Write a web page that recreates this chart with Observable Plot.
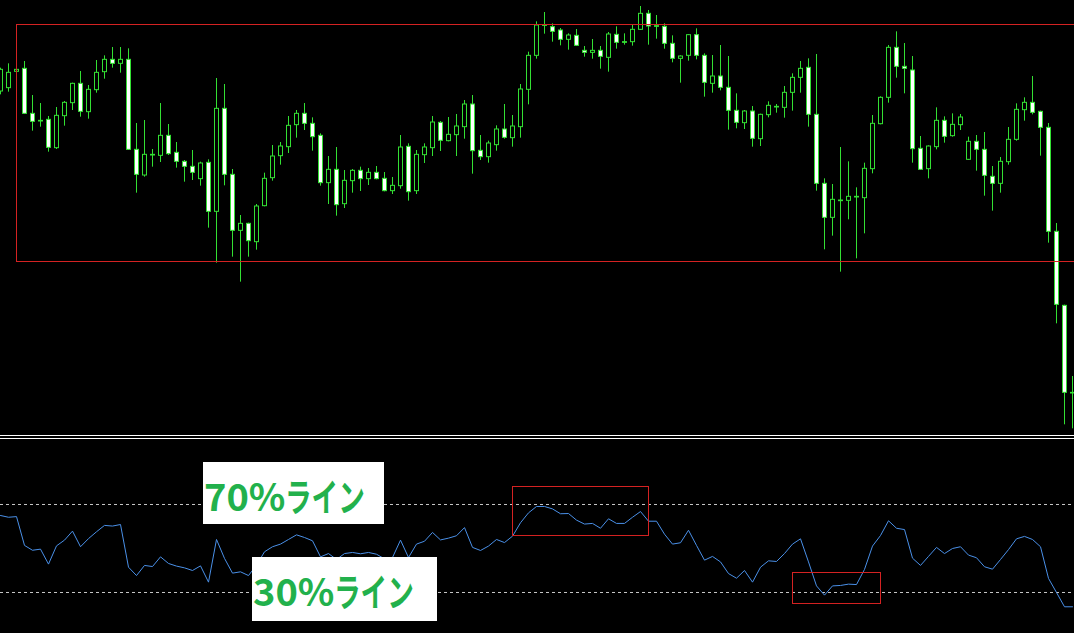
<!DOCTYPE html>
<html><head><meta charset="utf-8">
<script src="https://cdn.jsdelivr.net/npm/d3@7"></script>
<script src="https://cdn.jsdelivr.net/npm/@observablehq/plot@0.6"></script>
<style>
html,body{margin:0;padding:0;background:#000;}
#wrap{position:relative;width:1074px;height:633px;background:#000;overflow:hidden;}
#top,#bottom{line-height:0;}
.sep{height:2px;border-top:1px solid #fff;border-bottom:1px solid #fff;background:#000;}
.lab{position:absolute;background:#fff;white-space:nowrap;}
.lab .t{position:absolute;left:1px;top:14px;font-family:"Noto Sans CJK JP","Noto Sans",sans-serif;font-weight:700;font-size:38px;line-height:38px;color:#22b14c;}
.lab .k{display:inline-block;transform:scaleX(0.7);transform-origin:0 50%;}
</style></head>
<body>
<div id="wrap">
  <div id="top"></div>
  <div class="sep"></div>
  <div id="bottom"></div>
  <div class="lab" style="left:203px;top:462px;width:181px;height:62px"><span class="t"><span>70%</span><span class="k">ライン</span></span></div>
  <div class="lab" style="left:252px;top:557px;width:185px;height:64px"><span class="t"><span>30%</span><span class="k">ライン</span></span></div>
</div>
<script>
// OHLC prices (chart units, higher = up)
const open = [1047,1057,1106,1115,980,959,962,877,973,1012,
1070,985,1051,1105,1142,1130,1142,872,795,857,
854,914,863,836,821,784,833,686,995,797,
629,650,595,703,787,853,880,946,980,950,
914,772,812,709,778,809,784,803,785,748,
763,881,748,856,877,953,898,916,940,1008,
869,850,886,933,907,940,1052,1154,1246,1240,
1230,1202,1214,1169,1163,1169,1148,1217,1195,1195,
1232,1280,1243,1241,1190,1145,1154,1216,1154,1070,
1092,1058,989,952,987,904,976,1001,998,1043,
1088,1118,977,770,668,720,719,731,727,814,
949,1028,1178,1121,1110,875,814,880,959,913,
946,842,896,872,791,770,835,902,991,1013,
986,938,626,404,143];
const high = [1117,1130,1113,1137,1035,1011,972,999,1017,1072,
1107,1065,1140,1154,1179,1179,1175,951,960,873,
1011,948,894,840,870,835,842,1086,1068,813,
675,652,708,802,885,894,972,990,1011,968,
920,852,879,810,813,820,816,822,804,789,
915,890,870,890,972,957,969,978,1020,1035,
915,898,944,1008,975,1068,1165,1256,1284,1250,
1236,1220,1233,1182,1203,1182,1224,1241,1220,1245,
1302,1290,1275,1250,1214,1154,1218,1235,1160,1155,
1185,1152,1040,990,1002,979,1016,1008,1062,1100,
1137,1145,1158,785,768,879,836,758,832,975,
1031,1185,1226,1191,1152,912,884,998,971,980,
978,910,915,924,822,849,939,1010,1028,1092,
988,951,651,406,192];
const low = [1037,1045,1105,979,928,940,865,873,943,990,
970,964,1042,1084,1117,1102,870,742,790,820,
834,855,817,775,780,763,637,532,764,550,
475,550,571,701,778,826,861,907,930,868,
763,708,673,696,742,747,765,782,746,738,
754,718,738,831,852,867,896,852,904,799,
840,832,868,904,880,907,1007,1144,1219,1195,
1184,1171,1182,1150,1144,1114,1105,1174,1186,1183,
1230,1186,1204,1174,1133,1072,1138,1142,1030,1042,
1049,931,935,933,880,882,968,982,967,988,
1042,940,748,572,613,505,662,545,620,800,
947,1012,1087,1040,832,810,785,872,892,910,
930,840,808,733,688,742,826,898,958,977,
853,592,350,47,35];
const close = [1112,1103,1112,980,956,957,878,974,1013,1070,
986,1052,1103,1142,1130,1142,872,797,857,855,
914,859,836,821,803,831,686,995,797,629,
650,598,702,785,852,882,944,980,950,910,
772,812,706,779,809,784,803,784,748,764,
879,745,857,879,954,899,917,942,1008,868,
850,891,933,908,942,1053,1154,1245,1244,1226,
1202,1215,1184,1163,1169,1151,1218,1193,1193,1232,
1280,1242,1241,1190,1145,1152,1216,1154,1073,1092,
1058,989,953,987,905,977,1004,999,1043,1088,
1115,977,770,668,722,718,731,729,815,950,
1028,1178,1121,1115,874,812,882,959,911,947,
969,896,872,794,770,836,902,992,1013,983,
938,626,407,143,141];
// RSI values
const rsi = [65.0,64.2,64.5,51.4,49.2,49.7,42.9,51.2,53.8,57.9,
50.8,54.5,57.6,60.5,60.2,60.9,41.5,37.7,42.3,41.8,
46.2,43.2,42.0,41.2,40.0,42.1,34.7,54.1,45.5,38.8,
39.4,37.7,42.4,48.5,50.8,52.0,54.1,56.2,55.0,53.5,
46.2,47.7,45.0,47.7,48.2,47.6,48.2,47.4,45.3,45.9,
53.8,45.9,52.0,53.3,57.3,53.9,54.7,55.8,59.5,50.5,
49.1,51.1,54.1,52.7,55.6,61.7,66.2,69.1,69.1,68.0,
65.8,65.9,62.9,61.1,61.4,59.2,63.5,61.4,61.4,64.2,
66.8,62.4,62.4,56.5,52.0,52.6,58.3,51.4,44.7,46.4,
43.9,38.6,36.5,40.0,34.7,41.5,44.4,44.1,47.7,52.0,
54.4,43.9,33.0,28.8,33.0,33.2,33.8,33.6,40.5,51.1,
55.9,62.6,59.2,58.6,45.6,42.3,46.4,50.5,47.7,50.0,
50.8,47.0,45.8,41.7,40.6,45.0,49.5,54.4,55.5,54.1,
50.8,36.4,30.0,23.5,23.5];
const levels = [70, 30];
// annotation boxes (bar index / value ranges)
const priceBoxes = [{k1: 2, k2: 140, v1: 537, v2: 1248}];
const rsiBoxes = [{k1: 64, k2: 81, v1: 55.91, v2: 78.18}, {k1: 99, k2: 110, v1: 25.0, v2: 39.09}];

const GREEN = "#33e033", RED = "#d42222", BLUE = "#4a90e8";
const candles = open.map((o, i) => ({i, o, h: high[i], l: low[i], c: close[i]}));
const isDoji = d => Math.abs(d.o - d.c) < 3;
const xScale = {type: "linear", domain: [0, 134.25], axis: null};
// half-pixel insets keep 1px outlines crisp
const crisp = {insetLeft: 0.5, insetRight: -0.5, insetTop: 0.5, insetBottom: -0.5};
const bodyOpts = {x1: d => d.i - 0.25, x2: d => d.i + 0.25, y1: "o", y2: "c", stroke: GREEN, strokeWidth: 1, insetLeft: 0.5, insetRight: -0.5};

const topPlot = Plot.plot({
  width: 1074, height: 435, margin: 0,
  style: {background: "#000", overflow: "hidden"},
  x: xScale,
  y: {domain: [15, 1320], axis: null},
  marks: [
    Plot.ruleX(candles, {x: "i", y1: "l", y2: "h", stroke: GREEN, strokeWidth: 1}),
    Plot.rect(candles.filter(d => !isDoji(d) && d.c > d.o), {...bodyOpts, fill: "#000"}),
    Plot.rect(candles.filter(d => !isDoji(d) && d.c <= d.o), {...bodyOpts, fill: "#fff"}),
    Plot.rect(candles.filter(isDoji), {...bodyOpts, fill: GREEN}),
    Plot.rect(priceBoxes, {x1: "k1", x2: "k2", y1: "v1", y2: "v2", fill: "none", stroke: RED, strokeWidth: 1, ...crisp})
  ]
});
document.getElementById("top").appendChild(topPlot);

const bottomPlot = Plot.plot({
  width: 1074, height: 194, margin: 0,
  style: {background: "#000", overflow: "hidden"},
  x: xScale,
  y: {domain: [11.36, 99.545], axis: null},
  marks: [
    Plot.ruleY(levels, {stroke: "#c8c8c8", strokeWidth: 1, strokeDasharray: "3,3"}),
    Plot.line(rsi.map((v, i) => ({i, v})), {x: "i", y: "v", stroke: BLUE, strokeWidth: 1}),
    Plot.rect(rsiBoxes, {x1: "k1", x2: "k2", y1: "v1", y2: "v2", fill: "none", stroke: RED, strokeWidth: 1, ...crisp})
  ]
});
document.getElementById("bottom").appendChild(bottomPlot);
</script>
</body></html>
